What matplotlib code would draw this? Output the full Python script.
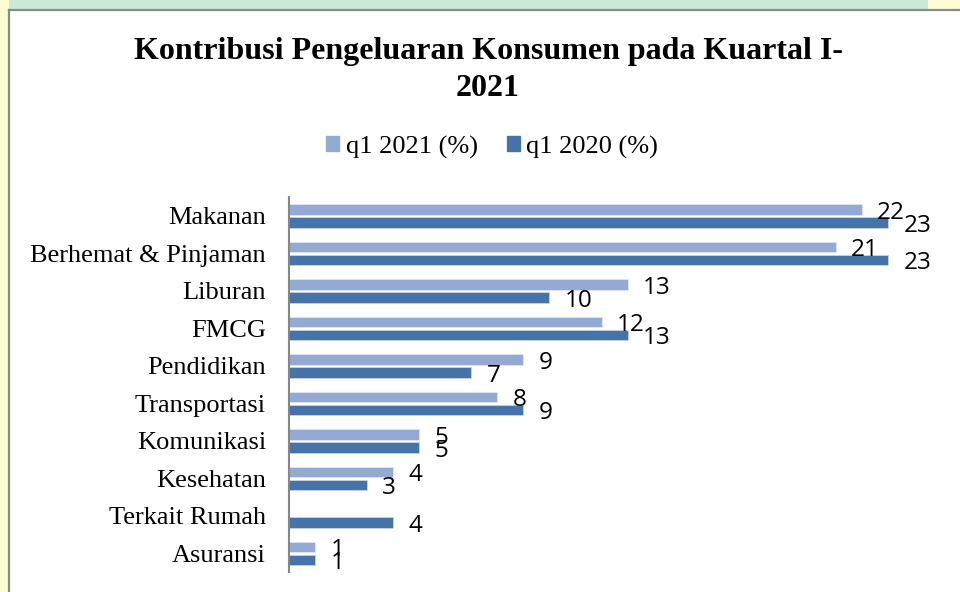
import numpy as np
import matplotlib
matplotlib.use("Agg")
import matplotlib.pyplot as plt
from matplotlib.patches import Rectangle
from matplotlib.lines import Line2D

categories = ["Makanan", "Berhemat & Pinjaman", "Liburan", "FMCG", "Pendidikan",
              "Transportasi", "Komunikasi", "Kesehatan", "Terkait Rumah", "Asuransi"]
q1_2021 = [22, 21, 13, 12, 9, 8, 5, 4, np.nan, 1]
q1_2020 = [23, 23, 10, 13, 7, 9, 5, 3, 4, 1]
series_names = ["q1 2021 (%)", "q1 2020 (%)"]
title = "Kontribusi Pengeluaran Konsumen pada Kuartal I-\n2021"

c_light = "#94aad2"
c_dark = "#4673a8"

W, H = 960, 592
fig = plt.figure(figsize=(W / 100, H / 100), dpi=100)
fig.patch.set_facecolor("white")

# background watermark strips outside the chart box
fig.patches.append(Rectangle((0, 1 - 9 / H), 1, 9 / H, transform=fig.transFigure,
                             facecolor="#c9e9d9", edgecolor="none", zorder=0))
fig.patches.append(Rectangle((0, 0), 9 / W, 1, transform=fig.transFigure,
                             facecolor="#fdfdd2", edgecolor="none", zorder=0))
fig.patches.append(Rectangle((928 / W, 1 - 9 / H), 32 / W, 9 / H, transform=fig.transFigure,
                             facecolor="#fdfdd2", edgecolor="none", zorder=0))
# chart box border
fig.add_artist(Line2D([9 / W, 9 / W], [0, 1 - 9.5 / H], transform=fig.transFigure,
                      color="#8a8a8a", lw=1.6))
fig.add_artist(Line2D([9 / W, 1], [1 - 9.5 / H, 1 - 9.5 / H], transform=fig.transFigure,
                      color="#8a8a8a", lw=1.6))

left_px, right_px, top_px, bot_px = 289, 930, 197, 572
ax = fig.add_axes([left_px / W, 1 - bot_px / H, (right_px - left_px) / W, (bot_px - top_px) / H])
ax.set_facecolor("none")

px_per_unit = (888 - 289) / 23.0
ax.set_xlim(0, (right_px - left_px) / px_per_unit)
ax.set_ylim(len(categories) - 0.5, -0.5)

y = np.arange(len(categories))
h = 10.5 / 37.5
off = 6.5 / 37.5
v21 = np.array(q1_2021, dtype=float)
v20 = np.array(q1_2020, dtype=float)
m21 = ~np.isnan(v21)
ax.barh(y[m21] - off, v21[m21], height=h, color=c_light, edgecolor="#e3e9f4", linewidth=0.5, zorder=2)
ax.barh(y + off, v20, height=h, color=c_dark, edgecolor="#cdd8e8", linewidth=0.5, zorder=2)

lab_font = dict(family=["Open Sans", "DejaVu Sans"], size=17.5, color="black")
for yi, v in zip(y - off, v21):
    if np.isnan(v):
        continue
    ax.annotate(f"{int(v)}", (v, yi), xytext=(11, -2.5), textcoords="offset points",
                ha="left", va="center", zorder=4, **lab_font)
for yi, v in zip(y + off, v20):
    ax.annotate(f"{int(v)}", (v, yi), xytext=(11, -2.5), textcoords="offset points",
                ha="left", va="center", zorder=4, **lab_font)

ax.set_yticks(y)
ax.set_yticklabels(categories, family=["Liberation Serif", "DejaVu Serif"], fontsize=19)
ax.tick_params(axis="y", length=0, pad=16.5)
ax.set_xticks([])
for s in ["top", "right", "bottom"]:
    ax.spines[s].set_visible(False)
ax.spines["left"].set_color("#868686")
ax.spines["left"].set_linewidth(1.5)

fig.text(488 / W, 1 - 70 / H, title, ha="center", va="center",
         family=["Liberation Serif", "DejaVu Serif"], fontsize=23, fontweight="bold",
         linespacing=1.36)

handles = [Rectangle((0, 0), 1, 1, color=c_light), Rectangle((0, 0), 1, 1, color=c_dark)]
fig.legend(handles, series_names, loc="center", bbox_to_anchor=(492 / W, 1 - 147 / H),
           ncol=2, frameon=False, prop=dict(family="Liberation Serif", size=19),
           handlelength=0.5, handleheight=0.5, handletextpad=0.25, columnspacing=1.1)

fig.savefig("out.png", dpi=100)
